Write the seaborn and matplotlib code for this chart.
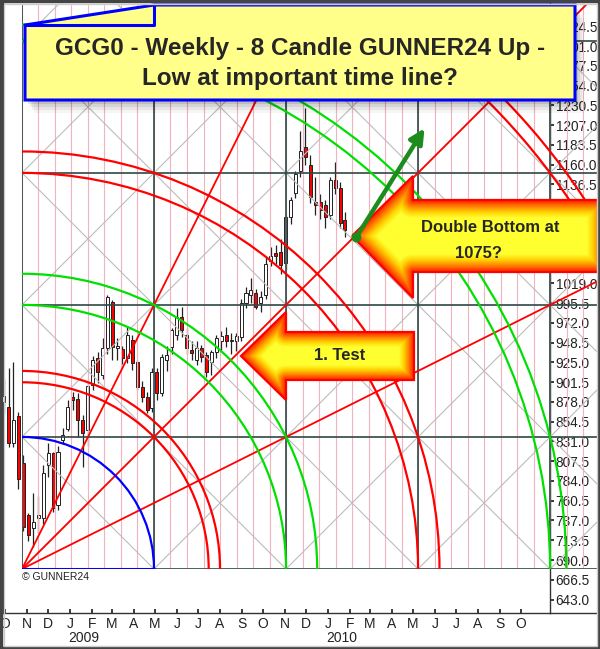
import numpy as np
import pandas as pd
import matplotlib
matplotlib.use("Agg")
import matplotlib.pyplot as plt
import matplotlib.dates as mdates
from matplotlib.patches import Polygon, Arc
from matplotlib.colors import LinearSegmentedColormap
import seaborn as sns

sns.set_theme(style="white")
plt.rcParams['font.family'] = ['Liberation Sans', 'DejaVu Sans']

# -----------------------------
# weekly candles GCG0 (week start dates)
# -----------------------------
weeks = pd.date_range("2008-09-29", periods=70, freq="7D")
opens = [878, 872, 829, 861, 805, 743, 728, 740, 740, 803,
         817, 755, 833, 846, 884, 881, 856, 845, 898, 930,
         910, 942, 997, 942, 941, 930, 952, 925, 896, 884,
         871, 914, 889, 928, 943, 958, 979, 958, 940, 928,
         942, 934, 925, 937, 950, 958, 950, 950, 955, 996,
         1005, 1007, 995, 1005, 1046, 1055, 1056, 1043, 1098, 1126,
         1152, 1181, 1160, 1116, 1116, 1112, 1100, 1142, 1132, 1094]
highs = [905, 918, 925, 866, 815, 746, 770, 766, 803, 829,
         818, 825, 847, 880, 890, 888, 862, 904, 932, 937,
         954, 1005, 999, 954, 945, 967, 957, 928, 903, 890,
         918, 918, 935, 945, 966, 990, 991, 966, 950, 950,
         946, 937, 940, 958, 962, 967, 960, 960, 1000, 1015,
         1025, 1012, 1010, 1050, 1062, 1065, 1072, 1100, 1122, 1152,
         1200, 1227, 1172, 1145, 1125, 1118, 1145, 1163, 1140, 1104]
lows = [865, 824, 824, 774, 725, 712, 705, 722, 733, 789,
        747, 750, 828, 843, 868, 836, 800, 825, 892, 900,
        905, 935, 928, 928, 923, 924, 916, 892, 878, 865,
        866, 880, 885, 915, 935, 952, 955, 935, 928, 922,
        925, 908, 910, 930, 940, 943, 935, 938, 950, 990,
        995, 988, 985, 1000, 1040, 1042, 1030, 1035, 1090, 1120,
        1145, 1160, 1115, 1100, 1095, 1085, 1095, 1125, 1085, 1074]
closes = [885, 829, 856, 786, 729, 720, 735, 744, 793, 817,
          752, 818, 839, 872, 880, 856, 841, 897, 928, 913,
          942, 1003, 943, 944, 930, 957, 924, 896, 884, 868,
          914, 888, 931, 934, 963, 979, 963, 942, 936, 942,
          931, 914, 937, 954, 956, 950, 952, 956, 996, 1008,
          1011, 991, 1003, 1042, 1052, 1052, 1041, 1098, 1118, 1149,
          1176, 1169, 1122, 1112, 1106, 1098, 1142, 1132, 1091, 1082]

price_ticks = [643.0, 666.5, 690.0, 713.5, 737.0, 760.5, 784.0, 807.5, 831.0, 854.5,
               878.0, 901.5, 925.0, 948.5, 972.0, 995.5, 1019.0, 1042.5, 1066.0, 1089.5,
               1113.0, 1136.5, 1160.0, 1183.5, 1207.0, 1230.5, 1254.0, 1277.5, 1301.0, 1324.5]
months = pd.date_range("2008-10-01", "2010-10-01", freq="MS")
years = ["2009", "2010"]

# GUNNER24 setup (origin + one square in time / price)
g_origin_date = pd.Timestamp("2008-10-25")
g_origin_price = 679.3
g_sq_days = 186.8
g_sq_price = 157.0
blue_radii = [1.0]
red_radii = [np.sqrt(2), 1.5, 3.0, np.sqrt(10), 5.0, np.sqrt(26)]
green_radii = [2.0, np.sqrt(5), 4.0, np.sqrt(17)]
ray_slopes = [2.0, 1.0, 0.5]

# -----------------------------
# figure / main axes
# -----------------------------
W, H = 600, 649
fig = plt.figure(figsize=(W / 100, H / 100), dpi=100)
fig.patch.set_facecolor("white")

ax = fig.add_axes([3 / W, 1 - 613 / H, 547 / W, 610 / H])
ax.set_zorder(1)
ax.set_facecolor("white")

px_day = 0.7068
px_price = 0.841
t0 = mdates.date2num(pd.Timestamp("2008-10-01"))
ax.set_xlim(t0 - 2 / px_day, t0 + 545 / px_day)
ax.set_ylim(690 - 53 / px_price, 690 + 557 / px_price)

xs = mdates.date2num(weeks)
o = np.array(opens, float)
c = np.array(closes, float)
ax.vlines(xs, lows, highs, color="#222222", lw=0.9, zorder=2)
body_lo = np.minimum(o, c)
body_h = np.maximum(np.abs(c - o), 1.5)
colors = np.where(c >= o, "white", "#ff0000")
ax.bar(xs, body_h, bottom=body_lo, width=4.3, color=colors,
       edgecolor="#222222", linewidth=0.7, zorder=3)

ax.yaxis.tick_right()
ax.set_yticks(price_ticks)
ax.set_yticklabels([f"{v:.1f}" for v in price_ticks])
ax.tick_params(axis="y", which="both", right=True, left=False, length=3,
               direction="out", labelsize=9.8, pad=1, colors="#222222")
ax.set_xticks(mdates.date2num(months))
ax.set_xticklabels([m.strftime("%b")[0] for m in months])
ax.tick_params(axis="x", bottom=True, length=3, direction="in",
               labelsize=10, pad=3, colors="#222222")
for yr in years:
    ax.annotate(yr, xy=(mdates.date2num(pd.Timestamp(f"{yr}-01-01")), 0),
                xycoords=("data", "axes fraction"), xytext=(-1, -18),
                textcoords="offset points", ha="left", va="center",
                fontsize=10, color="#222222")
for s in ax.spines.values():
    s.set_color("#333333")
    s.set_linewidth(1.0)
ax.spines["top"].set_visible(False)

# -----------------------------
# GUNNER24 overlay (square units)
# -----------------------------
ox, oy = ax.transData.transform((mdates.date2num(g_origin_date), g_origin_price))
cx, cy = ax.transData.transform((mdates.date2num(g_origin_date) + g_sq_days,
                                 g_origin_price + g_sq_price))
sq = cx - ox
ov_right, ov_top = 598, H - 5
ov = fig.add_axes([ox / W, oy / H, (ov_right - ox) / W, (ov_top - oy) / H])
ov.set_zorder(2)
ov.patch.set_visible(False)
ov.axis("off")
xmax = (ov_right - ox) / sq
ymax = (ov_top - oy) / (cy - oy)
ov.set_xlim(0, xmax)
ov.set_ylim(0, ymax)

for v in np.arange(0, xmax, 1 / 8):
    ov.axvline(v, color="#f2b3bc", lw=0.8, zorder=1)
line_x = np.array([0, xmax])
for k in range(-6, 11):
    ov.plot(line_x, line_x + k, color="#bcbcbc", lw=0.8, zorder=2)
    ov.plot(line_x, -line_x + k, color="#bcbcbc", lw=0.8, zorder=2)
for k in range(0, 5):
    ov.axvline(k, color="#2e4846", lw=1.2, zorder=3)
    ov.axhline(k, color="#2e4846", lw=1.2, zorder=3)
for s in ray_slopes:
    ov.plot([0, 10], [0, 10 * s], color="#ff0000", lw=1.3, zorder=4)
for radii, col in [(blue_radii, "#0000ff"), (red_radii, "#ff0000"), (green_radii, "#00e000")]:
    for r in radii:
        ov.add_patch(Arc((0, 0), 2 * r, 2 * r, theta1=0, theta2=90,
                         color=col, lw=1.6, zorder=5))
ov.plot([0, 1], [0, 0], color="#0000ff", lw=2.2, zorder=5)

# -----------------------------
# annotations (pixel coordinates)
# -----------------------------
ann = fig.add_axes([0, 0, 1, 1])
ann.set_zorder(3)
ann.patch.set_visible(False)
ann.axis("off")
ann.set_xlim(0, W)
ann.set_ylim(H, 0)

arrow_cmap = LinearSegmentedColormap.from_list(
    "arr", ["#ff1a00", "#ff7a00", "#ffd000", "#ffff30"])


def grad_arrow(pts, width=18):
    pts = np.array(pts, float)
    x0, y0 = pts.min(0)
    x1, y1 = pts.max(0)
    gx, gy = np.meshgrid(np.arange(x0, x1 + 1) + 0.5, np.arange(y0, y1 + 1) + 0.5)
    P = np.stack([gx.ravel(), gy.ravel()], 1)
    d = np.full(len(P), np.inf)
    for a, b in zip(pts, np.roll(pts, -1, 0)):
        ab = b - a
        t = np.clip(((P - a) @ ab) / (ab @ ab), 0, 1)
        proj = a + t[:, None] * ab
        d = np.minimum(d, np.hypot(*(P - proj).T))
    t = np.clip(d / width, 0, 1).reshape(gx.shape)
    patch = Polygon(pts, closed=True, fc="none", ec="#ff0000", lw=1.6, zorder=6)
    ann.add_patch(patch)
    im = ann.imshow(arrow_cmap(t), extent=(x0, x1 + 1, y1 + 1, y0), zorder=5,
                    aspect="auto", interpolation="bilinear")
    im.set_clip_path(patch)


grad_arrow([(352, 236), (413, 176), (413, 200), (605, 200), (605, 272),
            (413, 272), (413, 298)])
grad_arrow([(241, 356), (286, 312), (286, 332), (414, 332), (414, 380),
            (286, 380), (286, 400)], width=15)
ann.text(490, 228, "Double Bottom at", ha="center", va="center",
         fontsize=12, fontweight="bold", zorder=7)
ann.text(478, 254, "1075?", ha="center", va="center",
         fontsize=12, fontweight="bold", zorder=7)
ann.text(340, 356, "1. Test", ha="center", va="center",
         fontsize=12, fontweight="bold", zorder=7)

ann.annotate("", xy=(426, 126), xytext=(357, 236),
             arrowprops=dict(arrowstyle="-|>", color="#1c8c1c", lw=3.2,
                             mutation_scale=22), zorder=8)
ann.plot(356, 237, "o", color="#1c8c1c", ms=6, zorder=8)

# title box with shadow
box = [(25, 25), (154, 5), (575, 5), (575, 100), (25, 100)]
for i, a in enumerate([0.10, 0.08, 0.06, 0.04]):
    sh = np.array(box) + [3 + i * 2, 4 + i * 3]
    ann.add_patch(Polygon(sh, closed=True, fc="black", ec="none", alpha=a, zorder=8))
ann.add_patch(Polygon(box, closed=True, fc="#ffff8a", ec="#0000ff", lw=2.2, zorder=9))
ann.plot([25, 154, 154], [25, 25, 5], color="#0000ff", lw=2.2, zorder=9)
ann.text(300, 48, "GCG0 - Weekly - 8 Candle GUNNER24 Up -", ha="center",
         va="center", fontsize=17.5, fontweight="bold", zorder=10)
ann.text(300, 79, "Low at important time line?", ha="center",
         va="center", fontsize=17.5, fontweight="bold", zorder=10)

ann.text(22, 577, "\u00a9 GUNNER24", fontsize=7.5, va="center", ha="left",
         color="#222222", zorder=7)
ann.plot([550, 598], [613, 613], color="#333333", lw=1.0, zorder=7)

# outer frame
ann.add_patch(plt.Rectangle((1, 1), W - 2, H - 2, fc="none", ec="#444444",
                            lw=2.5, zorder=11))
ann.add_patch(plt.Rectangle((3.5, 3.5), W - 7, H - 7, fc="none", ec="#cccccc",
                            lw=1.0, zorder=11))

fig.savefig("out.png", dpi=100)
